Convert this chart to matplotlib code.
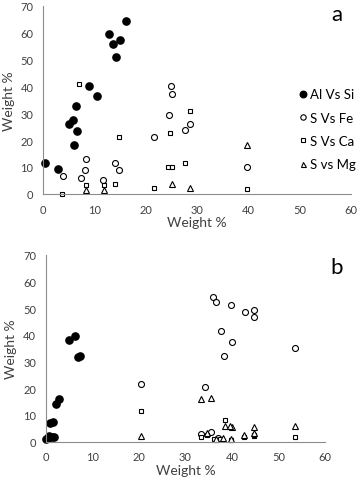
import matplotlib
matplotlib.use("Agg")
import matplotlib.pyplot as plt

plt.rcParams['font.family'] = ['Lato', 'DejaVu Sans']

# Panel a
a_al_x = [0.4, 2.9, 5.1, 5.9, 6.3, 6.0, 6.5, 9.0, 10.5, 12.8, 13.7, 14.1, 15.0, 16.1]
a_al_y = [11.5, 9.1, 25.9, 27.5, 32.5, 18.0, 23.3, 40.0, 36.4, 59.6, 55.7, 50.9, 57.4, 64.3]
a_fe_x = [3.8, 7.3, 8.1, 8.3, 11.7, 13.9, 14.7, 21.6, 24.6, 24.9, 25.1, 27.7, 28.7, 39.7]
a_fe_y = [6.7, 5.8, 8.9, 13.0, 5.2, 11.5, 8.8, 21.0, 29.2, 40.3, 37.3, 23.8, 26.1, 9.9]
a_ca_x = [3.7, 7.0, 8.4, 11.8, 14.0, 14.7, 21.6, 24.3, 25.1, 24.8, 28.7, 27.7, 39.7]
a_ca_y = [0.1, 40.7, 3.1, 3.1, 3.7, 21.0, 2.1, 9.8, 9.8, 22.8, 30.9, 11.4, 1.9]
a_mg_x = [8.3, 11.8, 25.1, 28.7, 39.7]
a_mg_y = [1.6, 1.6, 3.5, 2.2, 18.0]

# Panel b
b_al_x = [0.0, 0.5, 0.8, 1.4, 1.8, 0.9, 1.5, 2.3, 2.9, 5.0, 6.3, 6.9, 7.4]
b_al_y = [0.8, 1.2, 2.2, 1.8, 1.6, 7.0, 7.5, 14.0, 15.8, 37.9, 39.4, 31.6, 32.0]
b_fe_x = [20.5, 34.3, 36.0, 36.5, 39.7, 42.7, 44.7, 44.7, 37.7, 40.1, 38.3, 53.6, 33.3, 35.4, 37.0]
b_fe_y = [21.4, 20.6, 54.1, 52.5, 51.3, 48.5, 49.5, 46.6, 41.5, 37.5, 31.9, 35.1, 2.9, 3.5, 1.3]
b_ca_x = [20.5, 38.5, 33.3, 34.6, 36.1, 37.5, 39.8, 42.6, 44.7, 44.7, 53.6]
b_ca_y = [11.6, 7.9, 1.7, 2.3, 0.8, 1.0, 0.6, 1.8, 1.9, 2.6, 1.8]
b_mg_x = [20.5, 33.3, 35.6, 38.5, 40.1, 39.5, 44.7, 53.6, 42.6, 34.6, 36.5, 38.0, 39.7, 44.7]
b_mg_y = [2.2, 16.0, 16.5, 5.8, 5.4, 5.8, 5.4, 6.0, 2.5, 3.2, 0.9, 1.2, 0.8, 3.3]

labels = ["Al Vs Si", "S Vs Fe", "S Vs Ca", "S vs Mg"]
txt = '#404040'

fig = plt.figure(figsize=(3.6, 4.81), dpi=100)
ax1 = fig.add_axes([0.120, 0.595, 0.855, 0.391])
ax2 = fig.add_axes([0.127, 0.080, 0.776, 0.388])


def draw(ax, al, fe, ca, mg):
    h1, = ax.plot(al[0], al[1], 'o', ms=5.2, color='black', mec='black', ls='none')
    h2, = ax.plot(fe[0], fe[1], 'o', ms=4.3, mfc='white', mec='black', mew=0.8, ls='none')
    h3, = ax.plot(ca[0], ca[1], 's', ms=3.4, mfc='white', mec='black', mew=0.8, ls='none')
    h4, = ax.plot(mg[0], mg[1], '^', ms=4.0, mfc='white', mec='black', mew=0.8, ls='none')
    ax.set_xlim(0, 60)
    ax.set_ylim(0, 70)
    ax.set_xticks(range(0, 61, 10))
    ax.set_yticks(range(0, 71, 10))
    for s in ['top', 'right']:
        ax.spines[s].set_visible(False)
    for s in ['left', 'bottom']:
        ax.spines[s].set_color('#8c8c8c')
        ax.spines[s].set_linewidth(0.8)
    ax.tick_params(length=0, labelsize=8, colors=txt, pad=7)
    ax.set_xlabel("Weight %", fontsize=10, color=txt, labelpad=1)
    ax.set_ylabel("Weight %", fontsize=10, color=txt, labelpad=4)
    for h in (h1, h2, h3, h4):
        h.set_clip_on(False)
    return [h1, h2, h3, h4]


hs = draw(ax1, (a_al_x, a_al_y), (a_fe_x, a_fe_y), (a_ca_x, a_ca_y), (a_mg_x, a_mg_y))
draw(ax2, (b_al_x, b_al_y), (b_fe_x, b_fe_y), (b_ca_x, b_ca_y), (b_mg_x, b_mg_y))

ax1.legend(hs, labels, loc='center left', bbox_to_anchor=(0.836, 0.343),
           frameon=False, fontsize=9.5, handlelength=0.4, handletextpad=0.3,
           labelspacing=0.85, borderpad=0, borderaxespad=0, markerscale=0.9,
           labelcolor='black')

fig.text(337 / 360, 1 - 15 / 481, "a", fontsize=16, ha='center', va='center')
fig.text(337 / 360, 1 - 268 / 481, "b", fontsize=16, ha='center', va='center')

fig.savefig("out.png", dpi=100)
